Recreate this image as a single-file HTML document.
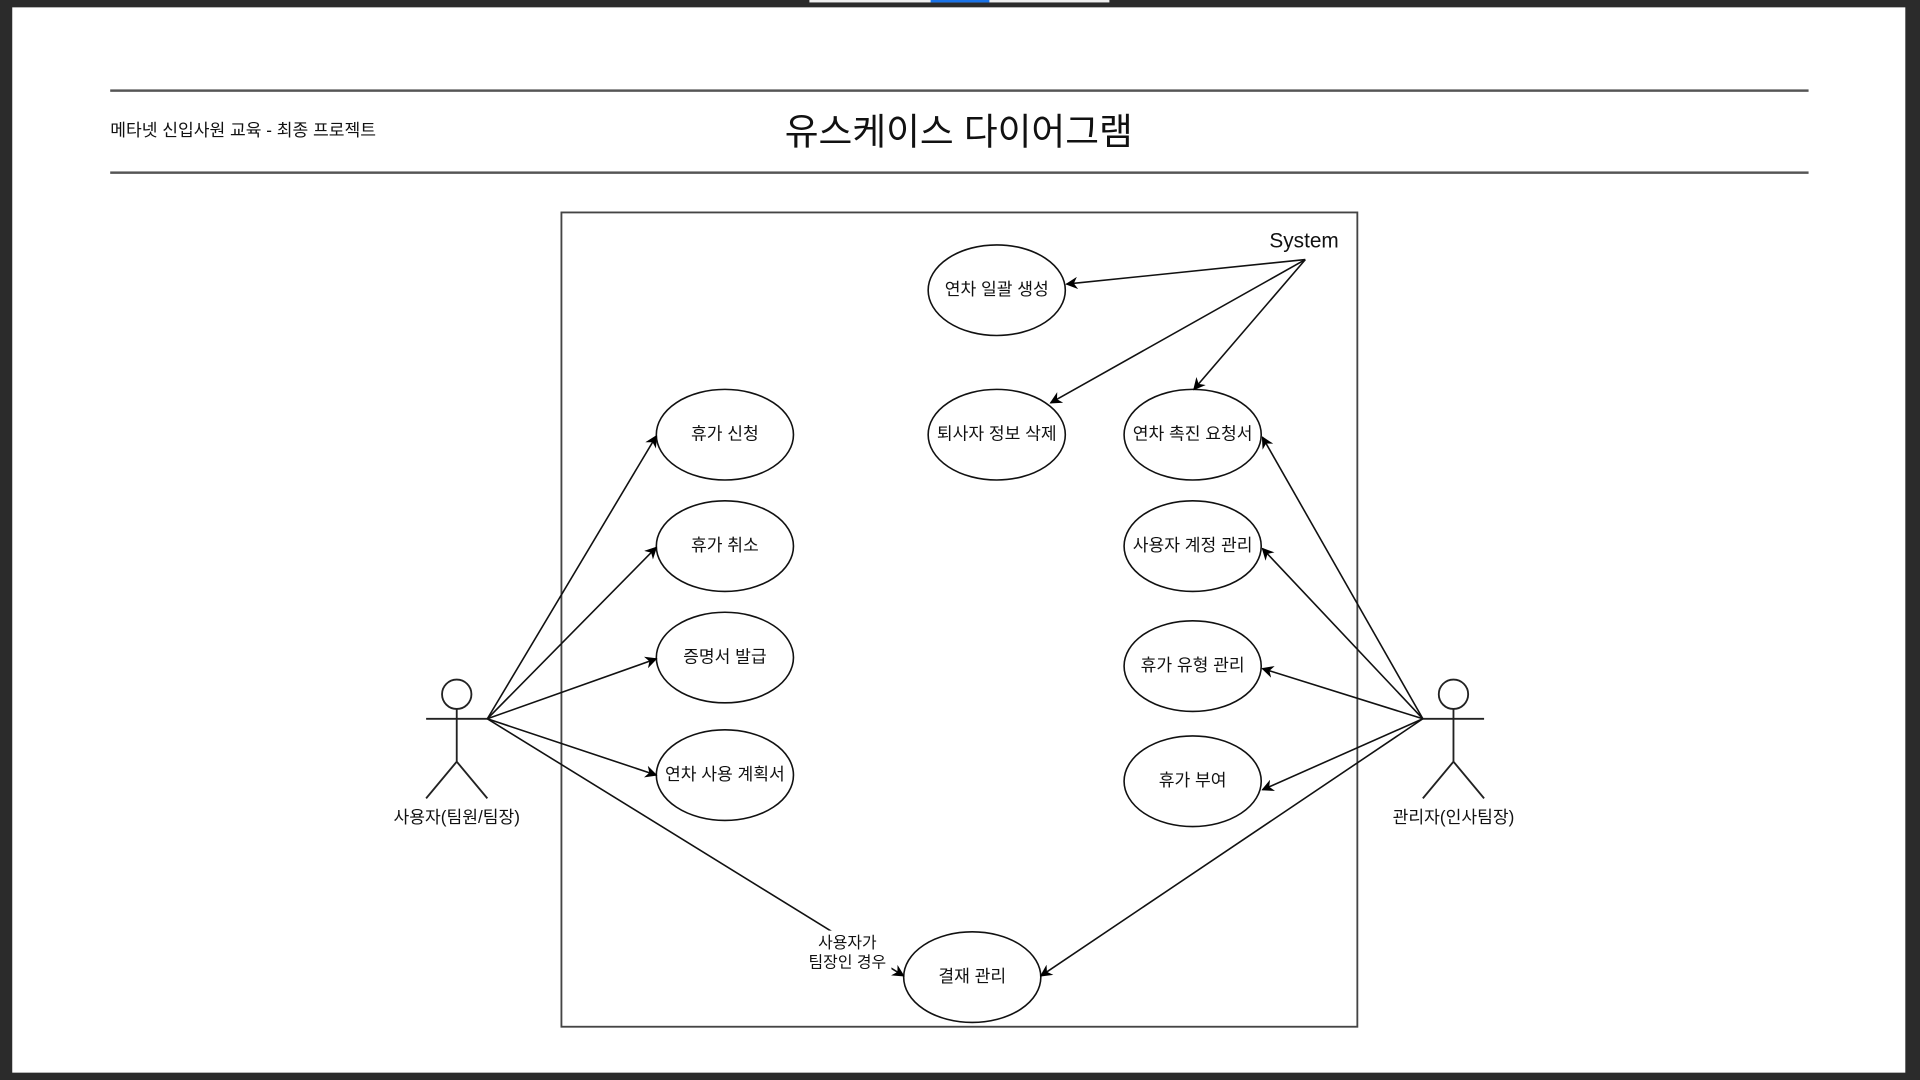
<!DOCTYPE html>
<html><head><meta charset="utf-8"><style>
html,body{margin:0;padding:0;background:#2b2b2b;overflow:hidden}
svg{display:block}
text{font-family:"Liberation Sans","Noto Sans CJK KR",sans-serif;fill:#111}
</style></head><body>
<svg width="1920" height="1080" viewBox="0 0 1568 882" xmlns="http://www.w3.org/2000/svg">
<defs>
<marker id="a" markerWidth="10" markerHeight="10" refX="9" refY="5" orient="auto" markerUnits="userSpaceOnUse">
<path d="M0,0 L10,5 L0,10 L3,5 Z" fill="#000"/>
</marker>
</defs>
<rect x="0" y="0" width="1568" height="882" fill="#2b2b2b"/>
<rect x="10" y="6" width="1546" height="870" fill="#fff"/>
<rect x="661" y="0" width="245" height="2" fill="#eee"/>
<rect x="760" y="0" width="48" height="2" fill="#1a73e8"/>
<rect x="90" y="73" width="1387" height="2" fill="#555"/>
<rect x="90" y="140" width="1387" height="2" fill="#555"/>
<text x="90" y="111" font-size="14">메타넷 신입사원 교육 - 최종 프로젝트</text>
<text x="783" y="118" font-size="30" text-anchor="middle">유스케이스 다이어그램</text>
<rect x="458.5" y="173.5" width="650" height="665" fill="none" stroke="#444" stroke-width="1.5"/>
<text x="1065" y="202" font-size="17" text-anchor="middle">System</text>
<g fill="#fff" stroke="#111" stroke-width="1.3">
<ellipse cx="814" cy="237" rx="56" ry="37"/>
<ellipse cx="814" cy="355" rx="56" ry="37"/>
<ellipse cx="974" cy="355" rx="56" ry="37"/>
<ellipse cx="592" cy="355" rx="56" ry="37"/>
<ellipse cx="592" cy="446" rx="56" ry="37"/>
<ellipse cx="592" cy="537" rx="56" ry="37"/>
<ellipse cx="592" cy="633" rx="56" ry="37"/>
<ellipse cx="974" cy="446" rx="56" ry="37"/>
<ellipse cx="974" cy="544" rx="56" ry="37"/>
<ellipse cx="974" cy="638" rx="56" ry="37"/>
<ellipse cx="794" cy="798" rx="56" ry="37"/>
</g>
<g font-size="14" text-anchor="middle">
<text x="814" y="241">연차 일괄 생성</text>
<text x="814" y="359">퇴사자 정보 삭제</text>
<text x="974" y="359">연차 촉진 요청서</text>
<text x="592" y="359">휴가 신청</text>
<text x="592" y="450">휴가 취소</text>
<text x="592" y="541">증명서 발급</text>
<text x="592" y="637">연차 사용 계획서</text>
<text x="974" y="450">사용자 계정 관리</text>
<text x="974" y="548">휴가 유형 관리</text>
<text x="974" y="642">휴가 부여</text>
<text x="794" y="802">결재 관리</text>
</g>
<g stroke="#222" stroke-width="1.5" fill="none">
<circle cx="373" cy="567" r="12" fill="#fff"/>
<path d="M373 579V622M348 587H398M348 652L373 622L398 652"/>
<circle cx="1187" cy="567" r="12" fill="#fff"/>
<path d="M1187 579V622M1162 587H1212M1162 652L1187 622L1212 652"/>
</g>
<text x="373" y="672" font-size="14" text-anchor="middle">사용자(팀원/팀장)</text>
<text x="1187" y="672" font-size="14" text-anchor="middle">관리자(인사팀장)</text>
<g stroke="#111" stroke-width="1.3" marker-end="url(#a)">
<line x1="398" y1="587" x2="536" y2="356"/>
<line x1="398" y1="587" x2="536" y2="447"/>
<line x1="398" y1="587" x2="536" y2="538"/>
<line x1="398" y1="587" x2="536" y2="633"/>
<line x1="398" y1="587" x2="738" y2="797"/>
<line x1="1162" y1="587" x2="1031" y2="357"/>
<line x1="1162" y1="587" x2="1031" y2="448"/>
<line x1="1162" y1="587" x2="1031" y2="546"/>
<line x1="1162" y1="587" x2="1031" y2="645"/>
<line x1="1162" y1="587" x2="850" y2="797"/>
<line x1="1066" y1="212" x2="871" y2="232"/>
<line x1="1066" y1="212" x2="858" y2="329"/>
<line x1="1066" y1="212" x2="975" y2="318"/>
</g>
<rect x="656" y="760" width="72" height="34" fill="#fff"/>
<text x="692" y="774" font-size="13" text-anchor="middle">사용자가</text>
<text x="692" y="790" font-size="13" text-anchor="middle">팀장인 경우</text>
</svg>
</body></html>
